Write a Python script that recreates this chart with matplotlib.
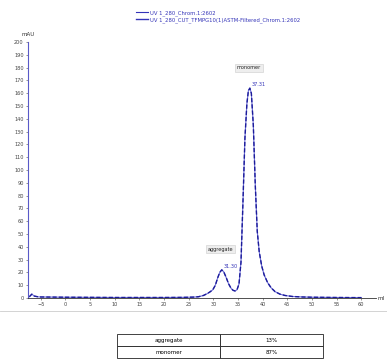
import matplotlib
matplotlib.use("Agg")
import matplotlib.pyplot as plt

# chromatogram (ml, mAU)
volume = [-7.3, -6.8, -6.3, -5.5, -5, 0, 5, 10, 15, 20, 24, 26, 27, 28, 28.8,
          29.4, 29.9, 30.4, 30.9, 31.3, 31.7, 32.1, 32.6, 33.1, 33.6, 34.0,
          34.4, 34.8, 35.2, 35.6, 36.0, 36.4, 36.8, 37.1, 37.4, 37.7, 38.1,
          38.5, 38.9, 39.3, 39.8, 40.3, 41.0, 41.7, 42.5, 43.5, 44.5, 46,
          48, 50, 55, 60]
mau = [1.0, 3.0, 1.5, 0.9, 0.8, 0.6, 0.5, 0.4, 0.4, 0.4, 0.5, 0.7, 1.0, 2.0,
       3.5, 5.0, 6.5, 10, 16, 20, 22, 20.5, 16, 11, 7.5, 6.0, 5.5, 6.5, 11,
       28, 75, 125, 152, 162, 164, 160, 135, 88, 52, 36, 25, 18, 12, 8, 5,
       3, 2, 1.2, 0.8, 0.6, 0.4, 0.3]

legend_names = ["UV 1_280_Chrom.1:2602",
                "UV 1_280_CUT_TFMPG10(1)ASTM-Filtered_Chrom.1:2602"]
peak_names = ["aggregate", "monomer"]
peak_pos = [31.7, 37.4]
peak_top = [22, 164]
peak_text = ["31.30", "37.31"]
share = ["13%", "87%"]

fig = plt.figure(figsize=(3.87, 3.61), dpi=100)
ax = fig.add_axes([0.072, 0.1745, 0.9, 0.709])

blue = "#3434b8"
l1, = ax.plot(volume, mau, color="#6a6ad6", lw=0.8)
l2, = ax.plot(volume, mau, color="#1c1c9a", lw=1.0, ls=(0, (3, 1.5)))

ax.set_xlim(-7.6, 63)
ax.set_ylim(0, 200)
ax.set_xticks(range(-5, 61, 5))
ax.set_yticks(range(0, 201, 10))
ax.tick_params(labelsize=3.6, length=1.5, width=0.4, pad=1.5, colors="#444444")
for s in ["top", "right"]:
    ax.spines[s].set_visible(False)
ax.spines["left"].set_color("#5a5ac8")
ax.spines["left"].set_linewidth(0.8)
ax.spines["bottom"].set_color("#333333")
ax.spines["bottom"].set_linewidth(0.6)
ax.text(0.0, 1.02, "mAU", transform=ax.transAxes, fontsize=4, ha="center",
        va="bottom", color="#333333")
ax.text(1.005, 0.0, "ml", transform=ax.transAxes, fontsize=4, ha="left",
        va="center", color="#333333")

# peak labels
for name, x, y, txt in zip(peak_names, peak_pos, peak_top, peak_text):
    ax.text(x + 0.3, y + 1, txt, fontsize=3.6, color=blue, ha="left",
            va="bottom")
    ax.text(x - 0.2, y + 14, name, fontsize=3.6, color="#222222",
            ha="center", va="bottom",
            bbox=dict(boxstyle="square,pad=0.3", fc="#eeeeee", ec="#cccccc",
                      lw=0.4))

fig.legend([l1, l2], legend_names, loc="upper left",
           bbox_to_anchor=(0.34, 0.985), frameon=False, fontsize=3.8,
           handlelength=2.2, handletextpad=0.4, labelspacing=0.25,
           labelcolor=blue)
for t in fig.legends[0].get_texts():
    t.set_color(blue)
for h in fig.legends[0].legend_handles:
    h.set_color(blue)
    h.set_linestyle("-")

# separator and summary table
fig.add_artist(plt.Line2D([0.0, 1.0], [0.138, 0.138], color="#cccccc",
                          lw=0.6))
tab_ax = fig.add_axes([0.302, 0.008, 0.533, 0.066])
tab_ax.axis("off")
tbl = tab_ax.table(cellText=[[n, s] for n, s in zip(peak_names, share)],
                   cellLoc="center", loc="center", bbox=[0, 0, 1, 1])
tbl.auto_set_font_size(False)
tbl.set_fontsize(4)
for cell in tbl.get_celld().values():
    cell.set_linewidth(0.6)
    cell.set_edgecolor("#222222")

fig.savefig("out.png", dpi=100)
